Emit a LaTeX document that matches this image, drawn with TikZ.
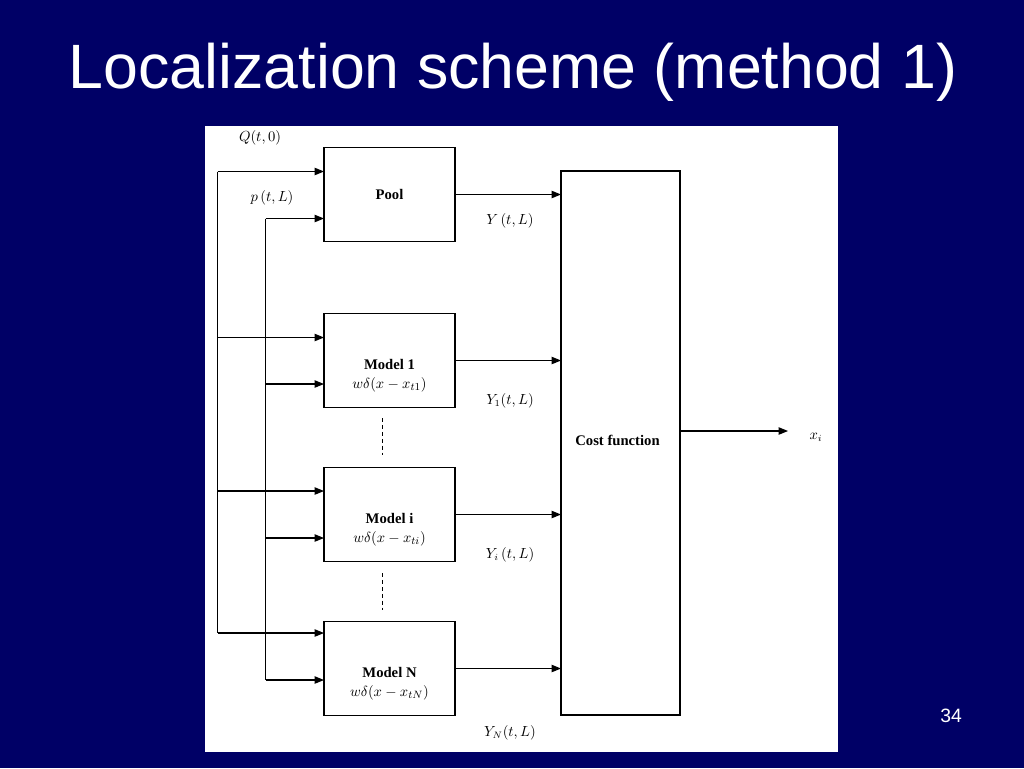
\documentclass[tikz,border=0pt]{standalone}
\usepackage{fontspec}
\setmainfont{Liberation Serif}
\setsansfont{Liberation Sans}
\usepackage{amsmath}
\usetikzlibrary{arrows.meta, positioning, calc}
\definecolor{navy}{HTML}{000066}

\begin{document}
\begin{tikzpicture}[x=0.75pt, y=-0.75pt, line width=0.8pt,
        block/.style={draw, fill=white, minimum width=98.25pt, minimum height=70.5pt, inner sep=0pt, outer sep=0pt},
        boxtext/.style={font=\fontsize{11}{13}\selectfont, align=center},
        lbl/.style={font=\fontsize{10.5}{12}\selectfont, inner sep=1pt},
        arr/.style={-{Triangle[length=7pt,width=5.5pt]}}]
        % slide background
        \fill[navy] (0,0) rectangle (1024,768);
        \fill[white] (205,126) rectangle (838,752);
        \node[text=white, font=\sffamily\fontsize{47}{52}\selectfont] (title) at (513,72) {Localization scheme (method 1)};
        \node[text=white, font=\sffamily\fontsize{14.5}{16}\selectfont] (page) at (951,716) {34};

        % blocks
        \node[block] (pool) at (389.5,194.5) {};
        \node[boxtext] (pooltxt) at (pool.center) {\textbf{Pool}};
        \node[block, below=54pt of pool] (m1) {};
        \node[boxtext] (m1txt) at ($(m1.center)+(0,15)$) {\textbf{Model 1}\\[1pt] $w\delta(x-x_{t1})$};
        \node[block, below=45pt of m1] (mi) {};
        \node[boxtext] (mitxt) at ($(mi.center)+(0,15)$) {\textbf{Model i}\\[1pt] $w\delta(x-x_{ti})$};
        \node[block, below=45pt of mi] (mn) {};
        \node[boxtext] (mntxt) at ($(mn.center)+(0,15)$) {\textbf{Model N}\\[1pt] $w\delta(x-x_{tN})$};
        \node[block, minimum width=89.25pt, minimum height=408pt] (cost) at (620.5,443) {};
        \node[boxtext] (costtxt) at ($(cost.center)+(-3,-3)$) {\textbf{Cost function}};

        % dotted gaps between models
        \coordinate (g1a) at (382,418);
        \coordinate (g1b) at (382,455);
        \coordinate (g2a) at (382,573);
        \coordinate (g2b) at (382,610);
        \draw[line width=0.6pt, dash pattern=on 3pt off 2.2pt] (g1a) -- (g1b);
        \draw[line width=0.6pt, dash pattern=on 3pt off 2.2pt] (g2a) -- (g2b);

        % input buses
        \coordinate (qtop) at (217.5,171.5);
        \coordinate (q1) at (217.5,337.5);
        \coordinate (qi) at (217.5,491);
        \coordinate (qn) at (217.5,633);
        \coordinate (ptop) at (265.5,218.5);
        \coordinate (p1) at (265.5,384);
        \coordinate (pi) at (265.5,538);
        \coordinate (pn) at (265.5,680);
        \draw (qtop) -- (qn);
        \draw (ptop) -- (pn);
        \draw[arr] (qtop) -- (pool.west|-qtop);
        \draw[arr] (ptop) -- (pool.west|-ptop);
        \draw[arr] (q1) -- (m1.west|-q1);
        \draw[arr] (p1) -- (m1.west|-p1);
        \draw[arr] (qi) -- (mi.west|-qi);
        \draw[arr] (pi) -- (mi.west|-pi);
        \draw[arr] (qn) -- (mn.west|-qn);
        \draw[arr] (pn) -- (mn.west|-pn);
        \node[lbl] (qlbl) at (260,138) {$Q(t,0)$};
        \node[lbl] (plbl) at (272,198) {$p\,(t,L)$};

        % outputs into the cost function
        \draw[arr] (pool.east) -- (cost.west|-pool.east);
        \draw[arr] (m1.east) -- (cost.west|-m1.east);
        \draw[arr] (mi.east) -- (cost.west|-mi.east);
        \draw[arr] (mn.east) -- (cost.west|-mn.east);
        \node[lbl] (ylbl) at (510,221) {$Y\,(t,L)$};
        \node[lbl] (y1lbl) at (510,401) {$Y_1(t,L)$};
        \node[lbl] (yilbl) at (510,555) {$Y_i\,(t,L)$};
        \node[lbl] (ynlbl) at (510,733) {$Y_N(t,L)$};

        % result
        \coordinate (xout) at (788,431);
        \draw[arr] (cost.east|-xout) -- (xout);
        \node[lbl] (xlbl) at (816,437) {$x_i$};
\end{tikzpicture}
\end{document}
